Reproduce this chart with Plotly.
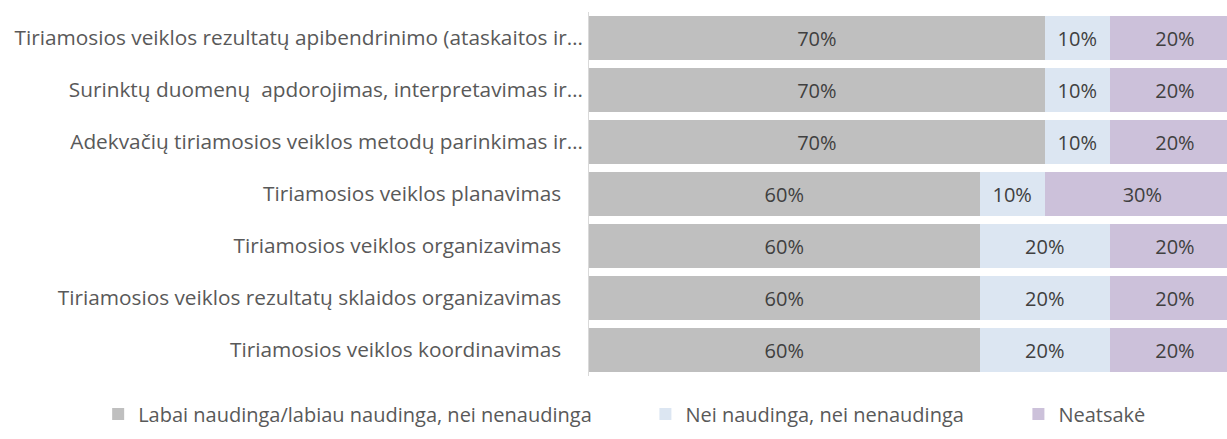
import plotly.graph_objects as go

# Survey items, listed bottom to top as drawn on the y axis
categories = [
    "Tiriamosios veiklos koordinavimas",
    "Tiriamosios veiklos rezultatų sklaidos organizavimas",
    "Tiriamosios veiklos organizavimas",
    "Tiriamosios veiklos planavimas",
    "Adekvačių tiriamosios veiklos metodų parinkimas ir…",
    "Surinktų duomenų  apdorojimas, interpretavimas ir…",
    "Tiriamosios veiklos rezultatų apibendrinimo (ataskaitos ir…",
]
truncated = [False, False, False, False, True, True, True]

naudinga = [0.6, 0.6, 0.6, 0.6, 0.7, 0.7, 0.7]
nei = [0.2, 0.2, 0.2, 0.1, 0.1, 0.1, 0.1]
neatsake = [0.2, 0.2, 0.2, 0.3, 0.2, 0.2, 0.2]

series = [
    ("Labai naudinga/labiau naudinga, nei nenaudinga", naudinga, "#BFBFBF"),
    ("Nei naudinga, nei nenaudinga", nei, "#DCE6F2"),
    ("Neatsakė", neatsake, "#CCC1DA"),
]
legend_ids = ["legend", "legend2", "legend3"]
legend_x = [0.080, 0.526, 0.830]  # left edge of each legend entry (container fraction)

FONT = "'Open Sans', sans-serif"
SIZE = 20

fig = go.Figure()
for (name, vals, color), lid in zip(series, legend_ids):
    fig.add_trace(go.Bar(
        y=categories,
        x=vals,
        name=name,
        orientation="h",
        legend=lid,
        marker=dict(color=color, line=dict(width=0)),
        text=[f"{round(v * 100)}%" for v in vals],
        textposition="inside",
        insidetextanchor="middle",
        textfont=dict(family=FONT, size=SIZE, color="#404040"),
        hoverinfo="skip",
    ))

# shorter labels sit a little further from the axis than the clipped ones
pad = "\u00a0" * 4
tick_text = [c if t else c + pad for c, t in zip(categories, truncated)]

legend_common = dict(
    orientation="h",
    xref="container", yref="container",
    xanchor="left", yanchor="middle",
    y=1 - 414 / 439,
    font=dict(family=FONT, size=SIZE, color="#595959"),
    itemwidth=30,
    bgcolor="rgba(0,0,0,0)",
)

fig.update_layout(
    width=1227,
    height=439,
    barmode="stack",
    bargap=0.17,
    plot_bgcolor="white",
    paper_bgcolor="white",
    margin=dict(l=589, r=0, t=12, b=63, autoexpand=False),
    showlegend=True,
    legend=dict(x=legend_x[0], **legend_common),
    legend2=dict(x=legend_x[1], **legend_common),
    legend3=dict(x=legend_x[2], **legend_common),
    xaxis=dict(
        range=[0, 0.98],
        showgrid=False,
        showticklabels=False,
        zeroline=False,
        showline=False,
        fixedrange=True,
    ),
    yaxis=dict(
        tickmode="array",
        tickvals=categories,
        ticktext=tick_text,
        tickfont=dict(family=FONT, size=20.8, color="#595959"),
        showline=True,
        linecolor="#D9D9D9",
        linewidth=1,
        ticks="",
        ticklabelstandoff=1,
        showgrid=False,
    ),
    uniformtext=dict(mode="show", minsize=10),
)

fig.write_html("out.html")
